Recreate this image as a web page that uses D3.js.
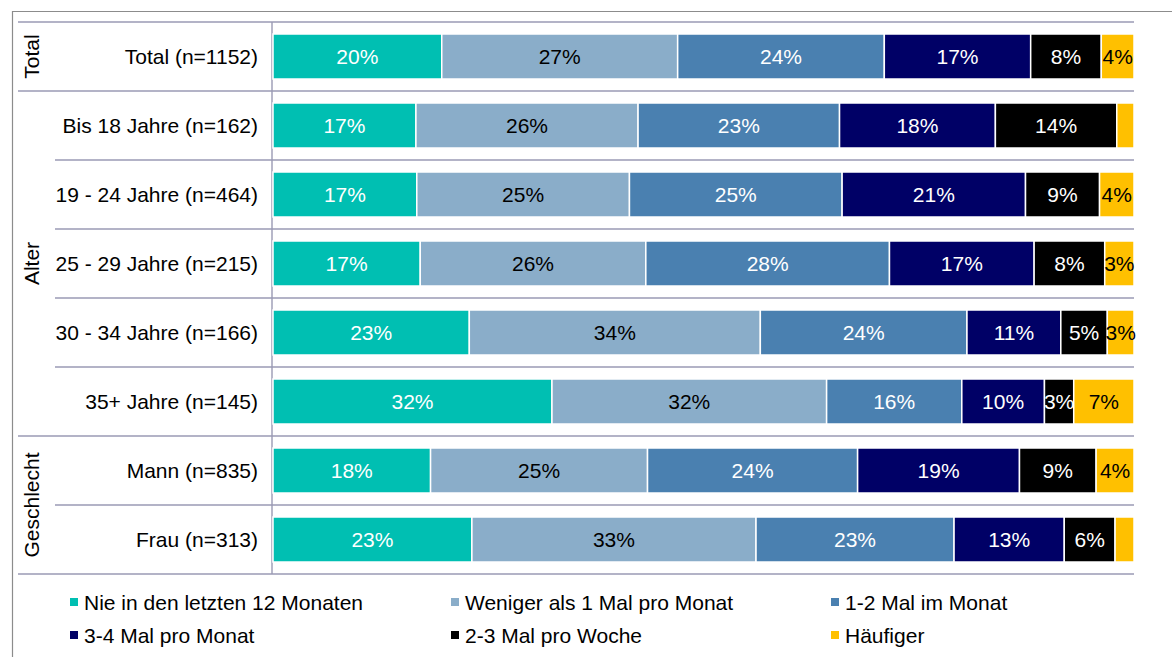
<!DOCTYPE html>
<html>
<head>
<meta charset="utf-8">
<script src="https://cdn.jsdelivr.net/npm/d3@7"></script>
<style>
  html, body { margin: 0; padding: 0; background: #fff; }
  svg { display: block; font-family: "Liberation Sans", Arial, sans-serif; }
</style>
</head>
<body>
<svg id="chart" width="1172" height="657"></svg>
<script>
// Row categories and the group each row belongs to
const categories = [
  "Total (n=1152)",
  "Bis 18 Jahre (n=162)",
  "19 - 24 Jahre (n=464)",
  "25 - 29 Jahre (n=215)",
  "30 - 34 Jahre (n=166)",
  "35+ Jahre (n=145)",
  "Mann (n=835)",
  "Frau (n=313)"
];
const groupOf = ["Total", "Alter", "Alter", "Alter", "Alter", "Alter", "Geschlecht", "Geschlecht"];
const groupNames = ["Total", "Alter", "Geschlecht"];

// Frequency answers (stack order, left to right)
const seriesNames = [
  "Nie in den letzten 12 Monaten",
  "Weniger als 1 Mal pro Monat",
  "1-2 Mal im Monat",
  "3-4 Mal pro Monat",
  "2-3 Mal pro Woche",
  "Häufiger"
];

// Shares in percent, one array per answer, ordered like categories
const nie      = [19.6, 16.6, 16.7, 17.1, 22.8, 32.4, 18.3, 23.1];
const weniger  = [27.4, 25.8, 24.7, 26.2, 33.8, 31.9, 25.2, 33.0];
const mal12    = [24.0, 23.4, 24.7, 28.3, 24.0, 15.7, 24.4, 23.0];
const mal34    = [17.0, 18.1, 21.3, 16.8, 10.9,  9.6, 18.8, 12.8];
const woche23  = [ 8.2, 14.1,  8.6,  8.2,  5.4,  3.4,  8.9,  5.9];
const haeufiger= [ 3.8,  2.0,  4.0,  3.4,  3.1,  7.0,  4.4,  2.2];
const seriesValues = [nie, weniger, mal12, mal34, woche23, haeufiger];

const colors = ["#00bfb2", "#8aadc9", "#4a80b0", "#000066", "#000000", "#ffc000"];
const labelColors = ["#ffffff", "#000000", "#ffffff", "#ffffff", "#ffffff", "#000000"];
const fontSize = 21;

const svg = d3.select("#chart");

const x = d3.scaleLinear().domain([0, 100]).range([273, 1134]);
const y = d3.scaleBand().domain(categories).range([22, 574]);
const barPad = y.bandwidth() * 12 / 69;
const barH = y.bandwidth() - 2 * barPad;

const rows = categories.map((c, i) => {
  const r = { category: c };
  seriesNames.forEach((s, j) => { r[s] = seriesValues[j][i]; });
  return r;
});
const stacked = d3.stack().keys(seriesNames)(rows);

// Outer frame (top and left)
svg.append("line").attr("x1", 12).attr("x2", 1172).attr("y1", 11.5).attr("y2", 11.5)
  .attr("stroke", "#8c8c8c").attr("stroke-width", 1.2);
svg.append("line").attr("x1", 12.5).attr("x2", 12.5).attr("y1", 11).attr("y2", 657)
  .attr("stroke", "#8c8c8c").attr("stroke-width", 1.2);

// Table rules
const ruleColor = "#9a9ab4";
const rules = svg.append("g");
categories.forEach((c, i) => {
  const top = y(c);
  const newGroup = i === 0 || groupOf[i] !== groupOf[i - 1];
  rules.append("line")
    .attr("x1", newGroup ? 18 : 55).attr("x2", 1134)
    .attr("y1", top).attr("y2", top)
    .attr("stroke", ruleColor).attr("stroke-width", 1.6);
});
rules.append("line").attr("x1", 18).attr("x2", 1134)
  .attr("y1", y.range()[1]).attr("y2", y.range()[1])
  .attr("stroke", ruleColor).attr("stroke-width", 1.6);
rules.append("line").attr("x1", 272).attr("x2", 272)
  .attr("y1", y.range()[0]).attr("y2", y.range()[1])
  .attr("stroke", ruleColor).attr("stroke-width", 1.4);

// Bars
const layers = svg.append("g").selectAll("g").data(stacked).join("g")
  .attr("fill", (d, i) => colors[i]);
layers.selectAll("rect").data(d => d).join("rect")
  .attr("x", d => x(d[0]))
  .attr("y", d => y(d.data.category) + barPad)
  .attr("width", d => x(d[1]) - x(d[0]))
  .attr("height", barH)
  .attr("stroke", "#ffffff")
  .attr("stroke-width", 1.5);

// Value labels
stacked.forEach((layer, i) => {
  svg.append("g").selectAll("text").data(layer.filter(d => d[1] - d[0] >= 2.5)).join("text")
    .attr("x", d => (x(d[0]) + x(d[1])) / 2)
    .attr("y", d => y(d.data.category) + y.bandwidth() / 2)
    .attr("dy", "0.36em")
    .attr("text-anchor", "middle")
    .attr("font-size", fontSize)
    .attr("fill", labelColors[i])
    .text(d => Math.round(d[1] - d[0]) + "%");
});

// Row labels
svg.append("g").selectAll("text").data(categories).join("text")
  .attr("x", 258)
  .attr("y", d => y(d) + y.bandwidth() / 2)
  .attr("dy", "0.36em")
  .attr("text-anchor", "end")
  .attr("font-size", fontSize)
  .attr("fill", "#000")
  .text(d => d);

// Group labels (rotated)
groupNames.forEach(g => {
  const members = categories.filter((c, i) => groupOf[i] === g);
  const y0 = y(members[0]);
  const y1 = y(members[members.length - 1]) + y.bandwidth();
  const cy = (y0 + y1) / 2;
  svg.append("text")
    .attr("transform", `translate(31,${cy}) rotate(-90)`)
    .attr("dy", "0.36em")
    .attr("text-anchor", "middle")
    .attr("font-size", fontSize)
    .attr("fill", "#000")
    .text(g);
});

// Legend
const legendX = [70, 451, 831];
const legendY = [602, 635];
const legend = svg.append("g").selectAll("g").data(seriesNames).join("g")
  .attr("transform", (d, i) => `translate(${legendX[i % 3]},${legendY[Math.floor(i / 3)]})`);
legend.append("rect")
  .attr("x", 0).attr("y", -4).attr("width", 8).attr("height", 8)
  .attr("fill", (d, i) => colors[i]);
legend.append("text")
  .attr("x", 14).attr("y", 0).attr("dy", "0.36em")
  .attr("font-size", fontSize)
  .attr("fill", "#000")
  .text(d => d);
</script>
</body>
</html>
